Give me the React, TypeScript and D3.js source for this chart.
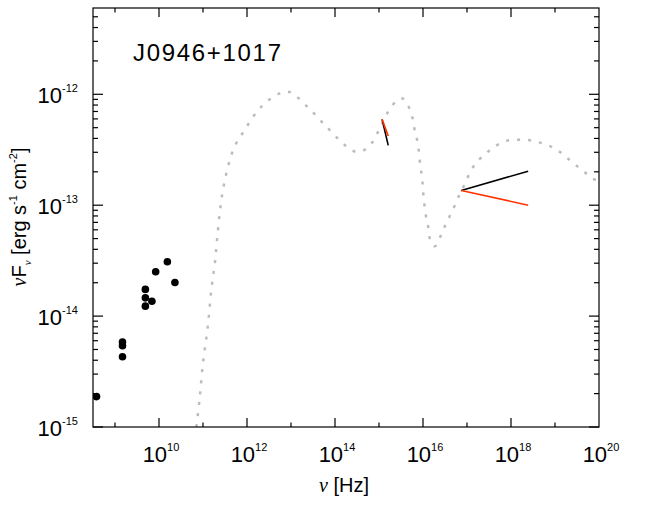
import { useEffect, useRef } from 'react';
import * as d3 from 'd3';

// radio / mm data points (Hz, erg s^-1 cm^-2)
const obsNu = [3.8e8, 1.48e9, 1.48e9, 1.48e9, 4.9e9, 4.9e9, 4.9e9, 6.9e9, 8.4e9, 1.55e10, 2.3e10];
const obsFlux = [1.88e-15, 5.83e-15, 5.4e-15, 4.3e-15, 1.74e-14, 1.46e-14, 1.23e-14, 1.36e-14, 2.51e-14, 3.09e-14, 2.01e-14];

// model SED, log10 values
const modelLogNu = [
  10.85, 10.92, 11.0, 11.11, 11.19, 11.27, 11.32, 11.38, 11.455, 11.57, 11.72, 11.95, 12.21, 12.52,
  12.93, 13.35, 13.8, 14.26, 14.5, 14.75, 14.99, 15.24, 15.43, 15.55, 15.66, 15.76, 15.81, 15.87,
  15.91, 15.94, 15.98, 16.0, 16.06, 16.12, 16.17, 16.27, 16.42, 16.53, 16.68, 16.8, 16.95, 17.1,
  17.25, 17.44, 17.63, 17.9, 18.16, 18.43, 18.69, 18.95, 19.18, 19.41, 19.64, 19.85, 20.0,
];
const modelLogF = [
  -15.0, -14.755, -14.42, -14.09, -13.76, -13.52, -13.31, -13.07, -12.86, -12.65, -12.47, -12.32,
  -12.165, -12.045, -11.976, -12.105, -12.29, -12.47, -12.52, -12.48, -12.33, -12.135, -12.05,
  -12.04, -12.1, -12.21, -12.32, -12.42, -12.53, -12.65, -12.75, -12.87, -13.08, -13.2, -13.32,
  -13.37, -13.26, -13.16, -13.04, -12.93, -12.81, -12.68, -12.6, -12.53, -12.47, -12.42, -12.41,
  -12.415, -12.44, -12.48, -12.54, -12.62, -12.69, -12.76, -12.78,
];

// power-law segments: [logNu0, logF0, logNu1, logF1]
const opticalBlack = [15.07, -12.226, 15.21, -12.46];
const opticalRed = [15.07, -12.226, 15.21, -12.376];
const xrayBlack = [16.87, -12.867, 18.39, -12.693];
const xrayRed = [16.87, -12.867, 18.39, -13.0];

const xExponents = [10, 12, 14, 16, 18, 20];
const yExponents = [-15, -14, -13, -12];

export default function App() {
  const ref = useRef<SVGSVGElement | null>(null);

  useEffect(() => {
    if (!ref.current) return;
    const svg = d3.select(ref.current);
    svg.selectAll('*').remove();

    const left = 93, right = 599, top = 8, bottom = 427;
    const x = d3.scaleLog().domain([10 ** 8.5, 1e20]).range([left, right]);
    const y = d3.scaleLog().domain([1e-15, 6e-12]).range([bottom, top]);
    const font = 'Liberation Sans, Arial, Helvetica, sans-serif';

    svg.append('defs').append('clipPath').attr('id', 'plot')
      .append('rect').attr('x', left).attr('y', top)
      .attr('width', right - left).attr('height', bottom - top);

    const plot = svg.append('g').attr('clip-path', 'url(#plot)');

    const model = modelLogNu.map((n, i) => [10 ** n, 10 ** modelLogF[i]] as [number, number]);
    const line = d3.line<[number, number]>()
      .x(d => x(d[0]))
      .y(d => y(d[1]))
      .curve(d3.curveCatmullRom);

    plot.append('path')
      .datum(model)
      .attr('fill', 'none')
      .attr('stroke', '#bcbcbc')
      .attr('stroke-width', 2.5)
      .attr('stroke-dasharray', '3 8')
      .attr('d', line);

    const segs: [number[], string][] = [
      [opticalBlack, '#000'], [opticalRed, '#ff3300'],
      [xrayBlack, '#000'], [xrayRed, '#ff3300'],
    ];
    segs.forEach(([s, c]) => {
      plot.append('line')
        .attr('x1', x(10 ** s[0])).attr('y1', y(10 ** s[1]))
        .attr('x2', x(10 ** s[2])).attr('y2', y(10 ** s[3]))
        .attr('stroke', c).attr('stroke-width', 1.6);
    });

    plot.selectAll('circle')
      .data(obsNu.map((n, i) => [n, obsFlux[i]]))
      .enter()
      .append('circle')
      .attr('cx', d => x(d[0]))
      .attr('cy', d => y(d[1]))
      .attr('r', 3.8)
      .attr('fill', '#000');

    // frame
    svg.append('rect')
      .attr('x', left).attr('y', top)
      .attr('width', right - left).attr('height', bottom - top)
      .attr('fill', 'none').attr('stroke', '#000').attr('stroke-width', 1.2);

    const ticks = svg.append('g').attr('stroke', '#000').attr('stroke-width', 1.2);

    // x ticks, one per decade
    for (let e = 9; e <= 19; e++) {
      const px = x(10 ** e);
      const len = e % 2 === 0 ? 9 : 4.5;
      ticks.append('line').attr('x1', px).attr('x2', px).attr('y1', bottom).attr('y2', bottom - len);
      ticks.append('line').attr('x1', px).attr('x2', px).attr('y1', top).attr('y2', top + len);
    }

    // y ticks, 1..9 per decade
    for (let e = -15; e <= -12; e++) {
      for (let m = 1; m <= 9; m++) {
        const v = m * 10 ** e;
        if (v <= 1e-15 * 0.999 || v >= 6e-12) continue;
        const py = y(v);
        const len = m === 1 ? 10 : 5;
        ticks.append('line').attr('x1', left).attr('x2', left + len).attr('y1', py).attr('y2', py);
        ticks.append('line').attr('x1', right).attr('x2', right - len).attr('y1', py).attr('y2', py);
      }
    }

    // x tick labels
    xExponents.forEach(e => {
      const t = svg.append('text')
        .attr('x', x(10 ** e) + 2)
        .attr('y', 462)
        .attr('text-anchor', 'middle')
        .attr('font-family', font)
        .attr('font-size', 22);
      t.append('tspan').text('10');
      t.append('tspan').attr('dy', -11).attr('font-size', 11).text(String(e));
    });

    // y tick labels
    yExponents.forEach(e => {
      const t = svg.append('text')
        .attr('x', 78)
        .attr('y', y(10 ** e) + 9)
        .attr('text-anchor', 'end')
        .attr('font-family', font)
        .attr('font-size', 22);
      t.append('tspan').text('10');
      t.append('tspan').attr('dy', -11).attr('font-size', 11).text(String(e));
    });

    // title
    svg.append('text')
      .attr('x', 133).attr('y', 61)
      .attr('font-family', font).attr('font-size', 24)
      .attr('textLength', 148)
      .text('J0946+1017');

    // x axis title
    const xt = svg.append('text')
      .attr('x', 344).attr('y', 492)
      .attr('text-anchor', 'middle')
      .attr('font-family', font).attr('font-size', 20);
    xt.append('tspan').attr('font-family', 'Liberation Serif, serif').attr('font-style', 'italic').text('ν');
    xt.append('tspan').text(' [Hz]');

    // y axis title
    const yt = svg.append('text')
      .attr('transform', 'translate(26,217) rotate(-90)')
      .attr('text-anchor', 'middle')
      .attr('font-family', font).attr('font-size', 20);
    yt.append('tspan').attr('font-family', 'Liberation Serif, serif').attr('font-style', 'italic').text('ν');
    yt.append('tspan').text('F');
    yt.append('tspan').attr('dy', 5).attr('font-size', 11)
      .attr('font-family', 'Liberation Serif, serif').attr('font-style', 'italic').text('ν');
    yt.append('tspan').attr('dy', -5).text(' [erg s');
    yt.append('tspan').attr('dy', -9).attr('font-size', 11).text('-1');
    yt.append('tspan').attr('dy', 9).text(' cm');
    yt.append('tspan').attr('dy', -9).attr('font-size', 11).text('-2');
    yt.append('tspan').attr('dy', 9).text(']');
  }, []);

  return (
    <svg
      ref={ref}
      width={664}
      height={514}
      style={{ position: 'absolute', left: 0, top: 0, background: '#fff' }}
    />
  );
}
